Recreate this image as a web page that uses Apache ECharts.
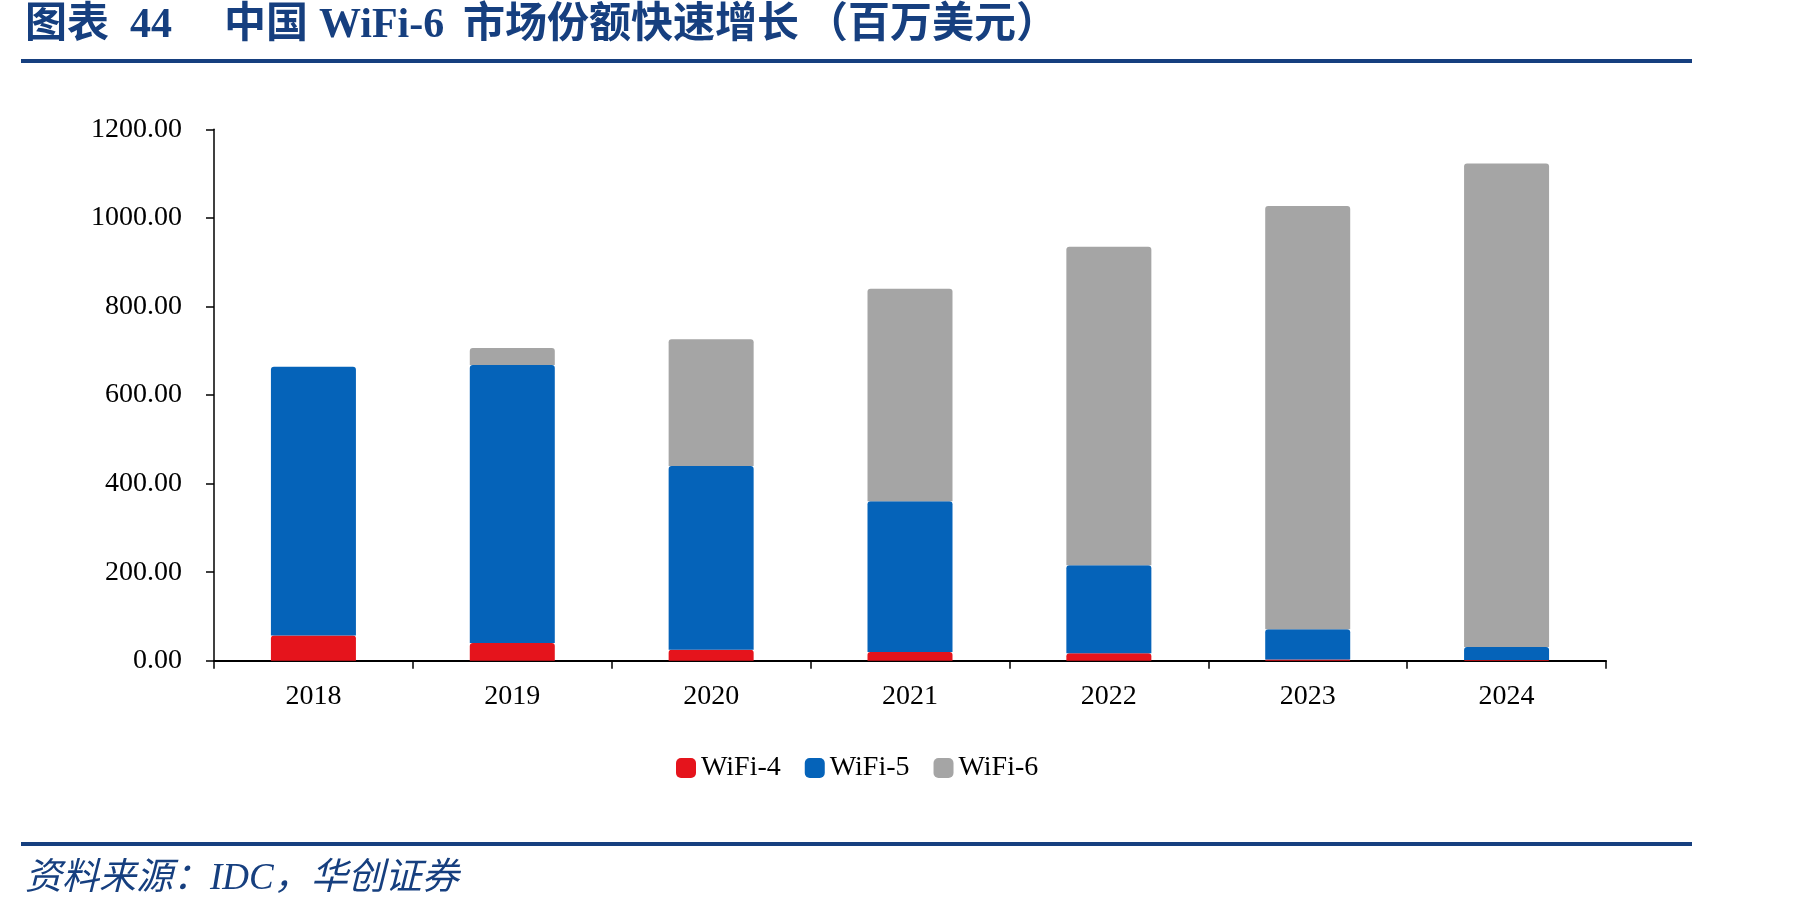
<!DOCTYPE html>
<html>
<head>
<meta charset="utf-8">
<script src="https://cdn.jsdelivr.net/npm/echarts@6/dist/echarts.min.js"></script>
<style>
html,body{margin:0;padding:0;background:#fff;}
#chart{width:1801px;height:912px;}
</style>
</head>
<body>
<div id="chart"></div>
<script>
const categories = ['2018', '2019', '2020', '2021', '2022', '2023', '2024'];
const wifi4 = [57, 40, 25, 20, 17, 3, 2];
const wifi5 = [607, 628, 415, 340, 199, 68, 29];
const wifi6 = [0, 38, 286, 480, 719, 956, 1092];
const yTicks = [0, 200, 400, 600, 800, 1000, 1200];
const titleParts = ['图表', '44', '中国', 'WiFi-6', '市场份额快速增长', '（百万美元）'];
const sourceText = '资料来源：IDC，华创证券';

const serif = '"Liberation Serif", "Times New Roman", "Noto Sans CJK SC", serif';
const navy = '#163f7f';
const titleX = [25, 130, 224, 319, 463, 806];

const chart = echarts.init(document.getElementById('chart'));
function barSeries(name, data, color) {
  return {
    name: name,
    type: 'bar',
    stack: 'total',
    data: data,
    barWidth: 85,
    itemStyle: { color: color, borderRadius: [3, 3, 0, 0] },
    emphasis: { disabled: true }
  };
}
const titleGraphics = titleParts.map((t, i) => ({
  type: 'text',
  x: titleX[i],
  y: 26,
  style: { text: t, fill: navy, font: 'bold 42px ' + serif, verticalAlign: 'middle', align: 'left' }
}));
chart.setOption({
  animation: false,
  backgroundColor: '#fff',
  graphic: titleGraphics.concat([
    { type: 'rect', shape: { x: 21, y: 59, width: 1671, height: 4 }, style: { fill: navy } },
    { type: 'rect', shape: { x: 21, y: 842, width: 1671, height: 4 }, style: { fill: navy } },
    { type: 'text', x: 25, y: 879,
      style: { text: sourceText, fill: navy, font: 'italic 37px ' + serif, verticalAlign: 'middle' } }
  ]),
  legend: {
    data: ['WiFi-4', 'WiFi-5', 'WiFi-6'],
    left: 671,
    top: 749,
    itemWidth: 20,
    itemHeight: 20,
    itemGap: 24,
    icon: 'roundRect',
    textStyle: { fontFamily: serif, fontSize: 28, color: '#000' }
  },
  grid: { left: 214, right: 195, top: 129.3, bottom: 251.2 },
  xAxis: {
    type: 'category',
    data: categories,
    axisLine: { lineStyle: { color: '#000', width: 2 } },
    axisTick: { show: true, length: 8, inside: false, lineStyle: { color: '#000', width: 1.5 } },
    axisLabel: { fontFamily: serif, fontSize: 28, color: '#000', margin: 22 }
  },
  yAxis: {
    type: 'value',
    min: yTicks[0],
    max: yTicks[yTicks.length - 1],
    interval: 200,
    splitLine: { show: false },
    axisLine: { show: true, lineStyle: { color: '#000', width: 1.5 } },
    axisTick: { show: true, length: 8, lineStyle: { color: '#000', width: 1.5 } },
    axisLabel: { fontFamily: serif, fontSize: 28, color: '#000', margin: 32,
      formatter: v => v.toFixed(2) }
  },
  series: [
    barSeries('WiFi-4', wifi4, '#e5141c'),
    barSeries('WiFi-5', wifi5, '#0563b9'),
    barSeries('WiFi-6', wifi6, '#a5a5a5')
  ]
});
</script>
</body>
</html>
